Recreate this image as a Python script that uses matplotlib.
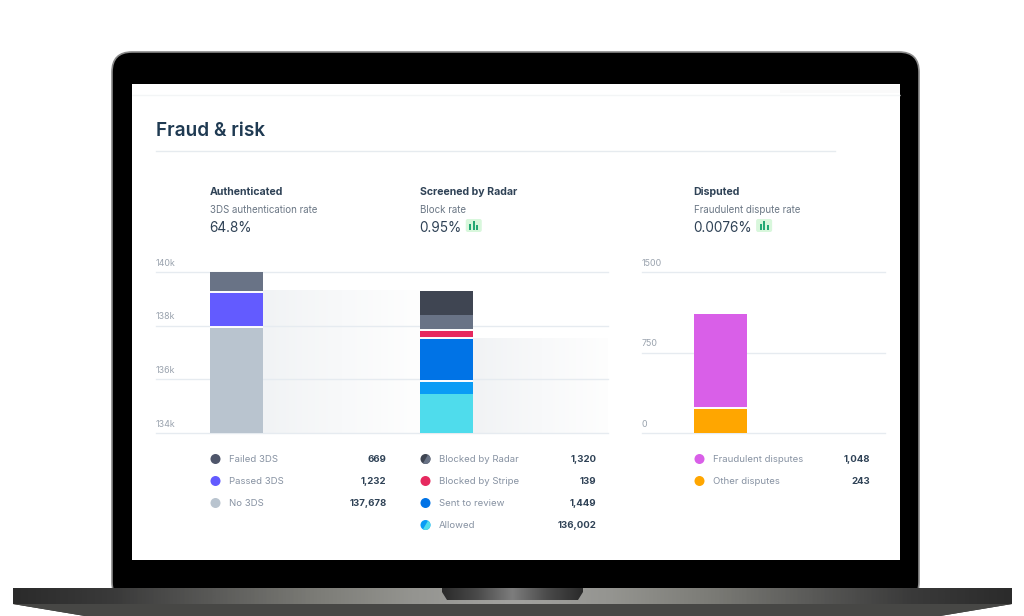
import numpy as np
import matplotlib
matplotlib.use('Agg')
import matplotlib.pyplot as plt
from matplotlib.colors import LinearSegmentedColormap
from matplotlib.patches import FancyBboxPatch, PathPatch, Rectangle, Circle, Wedge
from matplotlib.path import Path

plt.rcParams['font.family'] = ['Inter', 'DejaVu Sans']

# Data
auth_labels = ['No 3DS', 'Passed 3DS', 'Failed 3DS']
auth_values = [3955, 1300, 745]
auth_colors = ['#b9c4cf', '#635bff', '#697386']

radar_labels = ['Allowed (light)', 'Allowed', 'Sent to review', 'Blocked by Stripe', 'Blocked by Radar (light)', 'Blocked by Radar']
radar_values = [1453, 485, 1602, 300, 558, 895]
radar_colors = ['#4fdcec', '#0a9cf5', '#0073e6', '#e6295f', '#697386', '#3f4552']

disputed_labels = ['Other disputes', 'Fraudulent disputes']
disputed_values = [235, 875]
disputed_colors = ['#ffa600', '#d95fe8']

left_ticks = [134000, 136000, 138000, 140000]
left_ticklabels = ['134k', '136k', '138k', '140k']
right_ticks = [0, 750, 1500]
right_ticklabels = ['0', '750', '1500']

legend_auth = [('Failed 3DS', '669', '#4f566b', None), ('Passed 3DS', '1,232', '#635bff', None), ('No 3DS', '137,678', '#b9c4cf', None)]
legend_radar = [('Blocked by Radar', '1,320', '#3f4552', '#697386'), ('Blocked by Stripe', '139', '#e6295f', None),
                ('Sent to review', '1,449', '#0073e6', None), ('Allowed', '136,002', '#0a9cf5', '#4fdcec')]
legend_disputed = [('Fraudulent disputes', '1,048', '#d95fe8', None), ('Other disputes', '243', '#ffa600', None)]

headers = [(210, 'Authenticated', '3DS authentication rate', '64.8%'),
           (420, 'Screened by Radar', 'Block rate', '0.95%'),
           (694, 'Disputed', 'Fraudulent dispute rate', '0.0076%')]

DARK = '#2f4256'
GREY = '#8792a2'
GRID = '#e6ebf0'
W, H = 1024, 616

fig = plt.figure(figsize=(W / 100, H / 100), dpi=100, facecolor='white')

# Laptop and page are drawn in pixel coordinates
bg = fig.add_axes([0, 0, 1, 1])
bg.set_xlim(0, W)
bg.set_ylim(H, 0)
bg.axis('off')

# lid
bg.add_patch(FancyBboxPatch((112, 52), 807, 550, boxstyle='round,pad=0,rounding_size=20', fc='black', ec='#8a8a8a', lw=1.2))
# screen
bg.add_patch(Rectangle((132, 84), 768, 476, fc='white', ec='none'))
bg.plot([132, 900], [94.5, 94.5], color='#f3f5f6', lw=1, solid_capstyle='butt')
bg.add_patch(Rectangle((780, 85), 120, 8, fc='#fafafa', ec='none'))

# base with a horizontal metal gradient
base_cmap = LinearSegmentedColormap.from_list('base', ['#2b2b2b', '#3a3a3a', '#5a5a58', '#7b7b76', '#949490', '#a3a3a0',
                                                       '#949490', '#7b7b76', '#5a5a58', '#3a3a3a', '#2b2b2b'])
base_path = Path([(13, 588), (1012, 588), (1012, 604), (940, 616), (85, 616), (13, 604), (13, 588)])
base_img = bg.imshow(np.linspace(0, 1, 512)[None, :], extent=(13, 1012, 616, 588), cmap=base_cmap, aspect='auto', zorder=2)
base_patch = PathPatch(base_path, fc='none', ec='none', transform=bg.transData)
bg.add_patch(base_patch)
base_img.set_clip_path(base_patch)
bg.add_patch(Rectangle((13, 604), 999, 12, fc='#474745', ec='none', zorder=3, clip_path=base_patch))

# hinge notch
notch_cmap = LinearSegmentedColormap.from_list('notch', ['#2a2a2a', '#4a4a4a', '#7d7d7d', '#4a4a4a', '#2a2a2a'])
notch_path = Path([(442, 588), (583, 588), (583, 592), (578, 600), (447, 600), (442, 592), (442, 588)])
notch_img = bg.imshow(np.linspace(0, 1, 256)[None, :], extent=(442, 583, 600, 588), cmap=notch_cmap, aspect='auto', zorder=4)
notch_patch = PathPatch(notch_path, fc='none', ec='none', transform=bg.transData)
bg.add_patch(notch_patch)
notch_img.set_clip_path(notch_patch)
bg.set_xlim(0, W)
bg.set_ylim(H, 0)

# page title
bg.text(155.5, 130.5, 'Fraud & risk', fontsize=13.7, fontweight='semibold', color='#1f3a52', va='center', ha='left')
bg.plot([156, 835], [151, 151], color='#e6ebef', lw=1)

# column headers
for x, title, sub, rate in headers:
    bg.text(x - 0.5, 192, title, fontsize=7.6, fontweight='bold', color=DARK, va='center')
    bg.text(x, 210, sub, fontsize=7, color='#6b7785', va='center')
    rate_txt = bg.text(x - 0.5, 228, rate, fontsize=9.8, color=DARK, va='center')
    if title != 'Authenticated':
        fig.canvas.draw()
        x1 = bg.transData.inverted().transform(rate_txt.get_window_extent().get_points())[1][0]
        bx = x1 + 4
        bg.add_patch(FancyBboxPatch((bx, 219), 16, 13, boxstyle='round,pad=0,rounding_size=2', fc='#d8f7dc', ec='none'))
        for dx, h in zip((4.5, 8, 11.5), (6, 9, 5)):
            bg.plot([bx + dx, bx + dx], [229.5, 229.5 - h], color='#1ea672', lw=1.4, solid_capstyle='butt')


def pixel_axes(x0, y0, x1, y1):
    ax = fig.add_axes([x0 / W, 1 - y1 / H, (x1 - x0) / W, (y1 - y0) / H])
    ax.patch.set_alpha(0)
    for s in ax.spines.values():
        s.set_visible(False)
    ax.tick_params(left=False, bottom=False, labelbottom=False, labelleft=False)
    return ax


def draw_stack(ax, pos, values, colors, width, start):
    bottom = start
    for v, c in zip(values, colors):
        ax.bar(pos, v, width, bottom=bottom, color=c, zorder=3)
        bottom += v


def draw_gaps(ax, pos, values, width, start, gap_after):
    # thin white separators between segments
    tops = start + np.cumsum(values)
    for i in gap_after:
        ax.plot([pos - width / 2, pos + width / 2], [tops[i], tops[i]], color='white', lw=1.4, zorder=4, solid_capstyle='butt')


fade = LinearSegmentedColormap.from_list('fade', ['#f1f3f5', '#f8f9fa', '#fefefe'])

# left axes holds the first two bars
ax1 = pixel_axes(156, 272, 608, 433)
unit = 210
xlim1 = ((156 - 236.6) / unit, (608 - 236.6) / unit)
ax1.set_ylim(134000, 140000)
bar_w = 53 / unit
auth_tops = left_ticks[0] + np.cumsum(auth_values)
radar_tops = left_ticks[0] + np.cumsum(radar_values)
ax1.imshow(np.linspace(0, 1, 256)[None, :], extent=(bar_w / 2, 1 - bar_w / 2, left_ticks[0], radar_tops[-1]),
           cmap=fade, aspect='auto', zorder=1)
ax1.imshow(np.linspace(0, 1, 256)[None, :], extent=(1 + bar_w / 2, 1.78, left_ticks[0], radar_tops[2]),
           cmap=fade, aspect='auto', zorder=1)
ax1.set_xlim(*xlim1)
ax1.set_ylim(134000, 140000)
for t in left_ticks:
    ax1.axhline(t, color=GRID, lw=1, zorder=2, clip_on=False)
draw_stack(ax1, 0, auth_values, auth_colors, bar_w, left_ticks[0])
draw_stack(ax1, 1, radar_values, radar_colors, bar_w, left_ticks[0])
draw_gaps(ax1, 0, auth_values, bar_w, left_ticks[0], [0, 1])
draw_gaps(ax1, 1, radar_values, bar_w, left_ticks[0], [1, 2, 3])

# right axes for disputes
ax2 = pixel_axes(642, 272, 885, 433)
ax2.set_xlim((642 - 720.5) / unit, (885 - 720.5) / unit)
ax2.set_ylim(0, 1500)
for t in right_ticks:
    ax2.axhline(t, color=GRID, lw=1, zorder=2, clip_on=False)
draw_stack(ax2, 0, disputed_values, disputed_colors, bar_w, 0)
draw_gaps(ax2, 0, disputed_values, bar_w, 0, [0])

# tick labels sit above the grid lines, left aligned
for ax, ticks, labels in ((ax1, left_ticks, left_ticklabels), (ax2, right_ticks, right_ticklabels)):
    for t, lab in zip(ticks, labels):
        ax.annotate(lab, (0, t), xycoords=('axes fraction', 'data'), xytext=(0, 3.2), textcoords='offset points',
                    fontsize=6.4, color='#9aa3ae', ha='left', va='bottom', annotation_clip=False)


def draw_legend(rows, x_dot, x_text, x_val):
    for i, (name, val, color, color2) in enumerate(rows):
        y = 459 + i * 22
        bg.add_patch(Circle((x_dot, y), 5, fc=color, ec='none'))
        if color2:
            bg.add_patch(Wedge((x_dot, y), 5, -60, 120, fc=color2, ec='none'))
        bg.text(x_text, y + 0.5, name, fontsize=6.9, color=GREY, va='center')
        bg.text(x_val + 0.5, y + 0.5, val, fontsize=6.9, fontweight='bold', color=DARK, va='center', ha='right')


draw_legend(legend_auth, 215.5, 229, 386)
draw_legend(legend_radar, 425.5, 439, 596)
draw_legend(legend_disputed, 699.5, 713, 870)

fig.savefig('out.png', dpi=100, facecolor='white')
